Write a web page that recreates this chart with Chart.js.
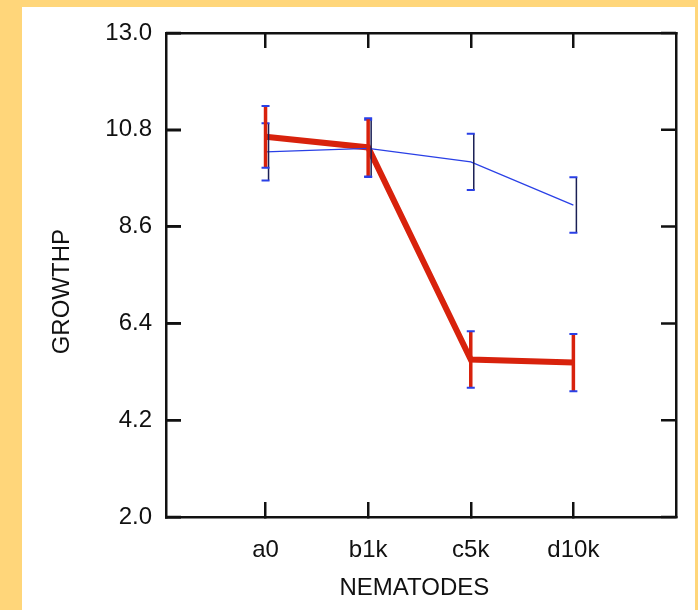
<!DOCTYPE html>
<html>
<head>
<meta charset="utf-8">
<script src="https://cdn.jsdelivr.net/npm/chart.js@4/dist/chart.umd.min.js"></script>
<style>
  html, body { margin: 0; padding: 0; background: #ffd67a; }
  #wrap { position: relative; width: 698px; height: 610px; overflow: hidden; }
  #panel { position: absolute; left: 22px; top: 7px; width: 673px; height: 603px; background: #ffffff; }
  #chart { position: absolute; left: 0; top: 0; }
</style>
</head>
<body>
<div id="wrap">
  <div id="panel"></div>
  <canvas id="chart" width="698" height="610"></canvas>
</div>
<script>
// data
const categories = ['a0', 'b1k', 'c5k', 'd10k'];
const blueValues = [10.30, 10.38, 10.07, 9.09];
const blueErrors = [0.65, 0.65, 0.64, 0.63];
const redValues = [10.64, 10.40, 5.58, 5.51];
const redErrors = [0.70, 0.66, 0.64, 0.65];
const yTickValues = [2.0, 4.2, 6.4, 8.6, 10.8, 13.0];

const tickFont = { family: "'Liberation Sans', Arial, sans-serif", size: 24 };
const ink = '#111111';

const toPoints = vals => vals.map((v, i) => ({ x: i + 1, y: v }));

// error bars drawn through the chart's own scales
const errorBars = {
    id: 'errorBars',
    afterDatasetsDraw(chart) {
        const ctx = chart.ctx;
        const xs = chart.scales.x, ys = chart.scales.y;
        chart.data.datasets.forEach(ds => {
            const e = ds.errorBar;
            ds.data.forEach((p, i) => {
                const x = xs.getPixelForValue(p.x) + (e.shift || 0);
                const top = ys.getPixelForValue(p.y + ds.errors[i]);
                const bot = ys.getPixelForValue(p.y - ds.errors[i]);
                ctx.save();
                ctx.strokeStyle = e.color;
                ctx.lineWidth = e.width;
                ctx.beginPath();
                ctx.moveTo(x, top); ctx.lineTo(x, bot);
                ctx.stroke();
                ctx.strokeStyle = e.capColor;
                ctx.lineWidth = e.capWidth;
                ctx.beginPath();
                ctx.moveTo(x - e.capLeft, top); ctx.lineTo(x + e.capRight, top);
                ctx.moveTo(x - e.capLeft, bot); ctx.lineTo(x + e.capRight, bot);
                ctx.stroke();
                ctx.restore();
            });
        });
    }
};

// inward y ticks on both sides of the frame
const innerYTicks = {
    id: 'innerYTicks',
    afterDraw(chart) {
        const ctx = chart.ctx, ys = chart.scales.y;
        const { left, right } = chart.chartArea;
        ctx.save();
        ctx.strokeStyle = ink;
        ctx.lineWidth = 2.5;
        ctx.beginPath();
        ys.ticks.forEach(t => {
            const y = ys.getPixelForValue(t.value);
            ctx.moveTo(left, y); ctx.lineTo(left + 15, y);
            ctx.moveTo(right, y); ctx.lineTo(right - 15, y);
        });
        ctx.stroke();
        ctx.restore();
    }
};

new Chart(document.getElementById('chart'), {
    type: 'line',
    data: {
        datasets: [
            {
                label: 'blue',
                data: toPoints(blueValues),
                errors: blueErrors,
                borderColor: '#2a40e6',
                borderWidth: 1.3,
                pointRadius: 0,
                errorBar: { color: '#1a1f55', width: 1.5, capColor: '#2a40e6', capWidth: 2, capLeft: 7, capRight: 1, shift: 3 }
            },
            {
                label: 'red',
                data: toPoints(redValues),
                errors: redErrors,
                borderColor: '#d8220c',
                borderWidth: 6,
                pointRadius: 0,
                errorBar: { color: '#d8220c', width: 3.5, capColor: '#2a40e6', capWidth: 2, capLeft: 4, capRight: 4, shift: 0 }
            }
        ]
    },
    options: {
        responsive: false,
        animation: false,
        devicePixelRatio: 1,
        layout: { padding: { left: 48, top: 33, right: 22, bottom: 7 } },
        plugins: { legend: { display: false }, tooltip: { enabled: false } },
        scales: {
            x: {
                type: 'linear', position: 'bottom', min: 0.03, max: 5,
                afterBuildTicks: s => { s.ticks = categories.map((c, i) => ({ value: i + 1 })); },
                afterFit: s => { s.height = 86; s.paddingLeft = 0; s.paddingRight = 0; },
                ticks: { callback: v => categories[v - 1], font: tickFont, color: ink, padding: 34, maxRotation: 0 },
                grid: { drawOnChartArea: false, drawTicks: true, tickLength: -15, color: ink, lineWidth: 2.5 },
                border: { display: true, color: ink, width: 2.5 },
                title: { display: true, text: 'NEMATODES  ', font: tickFont, color: ink, padding: 0 }
            },
            x2: {
                type: 'linear', position: 'top', min: 0.03, max: 5,
                afterBuildTicks: s => { s.ticks = categories.map((c, i) => ({ value: i + 1 })); },
                afterFit: s => { s.height = 0; s.paddingLeft = 0; s.paddingRight = 0; },
                ticks: { display: false },
                grid: { drawOnChartArea: false, drawTicks: true, tickLength: -15, color: ink, lineWidth: 2.5 },
                border: { display: true, color: ink, width: 2.5 }
            },
            y: {
                type: 'linear', position: 'left', min: 2, max: 13,
                afterBuildTicks: s => { s.ticks = yTickValues.map(v => ({ value: v })); },
                afterFit: s => { s.width = 118; s.paddingTop = 0; s.paddingBottom = 0; },
                ticks: { callback: v => v.toFixed(1), font: tickFont, color: ink, padding: 29 },
                grid: { drawOnChartArea: false, drawTicks: true, tickLength: -15, color: ink, lineWidth: 2.5 },
                border: { display: true, color: ink, width: 2.5 },
                title: { display: true, text: 'GROWTHP     ', font: tickFont, color: ink, padding: 0 }
            },
            y2: {
                type: 'linear', position: 'right', min: 2, max: 13,
                afterFit: s => { s.width = 0; s.paddingTop = 0; s.paddingBottom = 0; },
                ticks: { display: false },
                grid: { display: true, drawOnChartArea: false, drawTicks: false },
                border: { display: true, color: ink, width: 2.5 }
            }
        }
    },
    plugins: [errorBars, innerYTicks]
});
</script>
</body>
</html>
